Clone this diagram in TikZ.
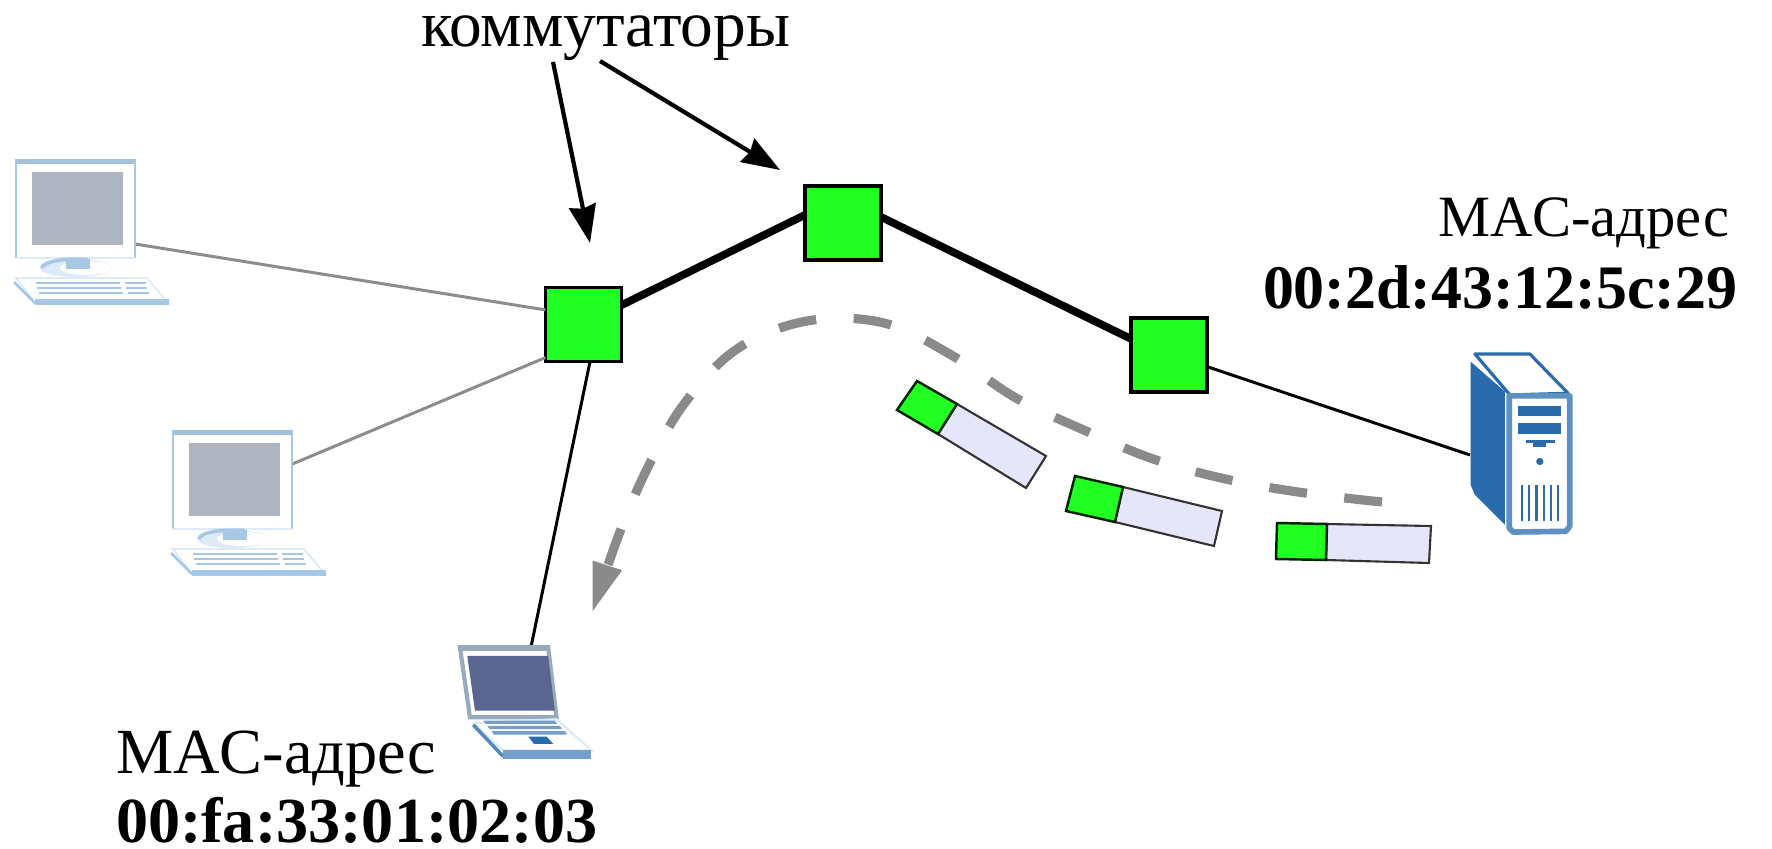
\documentclass[tikz,border=0pt]{standalone}
\usepackage{fontspec}
\setmainfont{Liberation Serif}
\usetikzlibrary{arrows.meta}
\definecolor{swgreen}{HTML}{22FF22}
\definecolor{lav}{HTML}{E6E6FA}
\definecolor{pcblue}{HTML}{A6C8E4}
\definecolor{pcpale}{HTML}{DCEBF7}
\definecolor{pcscreen}{HTML}{AEB4C0}
\definecolor{srvblue}{HTML}{2A6BAE}
\definecolor{lapscreen}{HTML}{5A6690}
\definecolor{flowgray}{HTML}{8A8A8A}
\definecolor{linkgray}{HTML}{8C8C8C}
\tikzset{
  switchbox/.style={draw=black,line width=0.9pt,fill=swgreen,minimum width=0.76cm,minimum height=0.74cm,inner sep=0pt,outer sep=0pt},
  trunk/.style={line width=2.2pt,black},
  thinlink/.style={line width=0.85pt,black},
  graylink/.style={line width=0.85pt,linkgray},
  pointer/.style={line width=1.2pt,black,-{Stealth[length=0.38cm,width=0.27cm,inset=0.03cm]}},
  flow/.style={line width=2.6pt,flowgray,dash pattern=on 0.38cm off 0.375cm,-{Triangle[length=0.5cm,width=0.28cm]}},
  label/.style={inner sep=0pt,outer sep=0pt,anchor=base west,text=black},
  pkthead/.style={draw=black!85!green,line width=0.7pt,fill=swgreen},
  pktbody/.style={draw=black!80,line width=0.6pt,fill=lav},
}
\newcommand{\pcicon}[2]{%
  \begin{scope}[shift={(#1,#2)}]
    \fill[white] (16,160) rectangle (135,258);
    \draw[pcblue,line width=0.6pt] (16,258) -- (16,160) -- (135,160) -- (135,258);
    \draw[pcpale,line width=0.5pt] (16,258) -- (135,258);
    \fill[pcblue!90!gray] (17,159) rectangle (134,164);
    \fill[pcscreen] (32,172) rectangle (123,245);
    \fill[pcpale] (76,268) ellipse (36 and 9);
    \fill[white] (86,268) ellipse (26 and 7);
    \fill[pcblue] (66,259) rectangle (90,269);
    \draw[pcblue,line width=1pt] (42,268) arc (180:290:34 and 9);
    \fill[white,draw=pcpale,line width=0.5pt] (16,278) -- (147,278) -- (168,303) -- (35,303) -- cycle;
    \fill[pcblue] (35,299) rectangle (169,305);
    \draw[pcblue,line width=0.8pt] (14,282) -- (35,303);
    \foreach \yy in {283,288,293}{
      \fill[pcblue] (36+\yy/4-70.75,\yy-0.9) rectangle (120+\yy/4-70.75,\yy+0.9);
      \fill[pcblue] (125+\yy/4-70.75,\yy-0.9) rectangle (146+\yy/4-70.75,\yy+0.9);
    }
  \end{scope}}
\begin{document}
\begin{tikzpicture}[x=0.01cm,y=-0.01cm]
\useasboundingbox (0,0) rectangle (1772,848);
\fill[white] (0,0) rectangle (1772,848);

% anchors of end devices
\coordinate (pcA) at (135,244);
\coordinate (pcB) at (290,465);
\coordinate (lap) at (531,647);
\coordinate (srv) at (1470,455);
\coordinate (ptrA) at (553,62);
\coordinate (ptrB) at (600,61);
\coordinate (ptrAend) at (590,243);
\coordinate (ptrBend) at (780,170);

% switches
\node[switchbox] (s1) at (583.5,324.5) {};
\node[switchbox] (s2) at (843,223) {};
\node[switchbox] (s3) at (1169,355) {};

% links
\draw[graylink] (pcA) -- (s1.159);
\draw[graylink] (pcB) -- (s1.221);
\draw[thinlink] (s1.-80) -- (lap);
\draw[trunk] (s1.27) -- (s2.168);
\draw[trunk] (s2.9) -- (s3.157);
\draw[thinlink] (s3.-17) -- (srv);

% pointers
\draw[pointer] (ptrA) -- (ptrAend);
\draw[pointer] (ptrB) -- (ptrBend);

% dashed flow
\draw[flow] plot[smooth,tension=0.6] coordinates {(1382,502) (1305,493) (1230,480) (1156,460) (1086,431) (1016,398) (953,356) (884,323) (807,321) (737,349) (684,404) (647,469) (618,537) (592,613)};

% frames
\draw[pktbody] (957,404) -- (1046,456) -- (1026,488) -- (938,434) -- cycle;
\draw[pkthead] (917,381) -- (957,404) -- (938,434) -- (897,410) -- cycle;
\draw[pktbody] (1123,487) -- (1222,511) -- (1214,546) -- (1115,522) -- cycle;
\draw[pkthead] (1075,476) -- (1123,487) -- (1115,522) -- (1066,511) -- cycle;
\draw[pktbody] (1327,524) -- (1431,526) -- (1429,563) -- (1326,560) -- cycle;
\draw[pkthead] (1277,523) -- (1327,524) -- (1326,560) -- (1276,559) -- cycle;

% desktops
\pcicon{0}{0}
\pcicon{157}{271}

% server
\begin{scope}[shift={(1420,340)},x=0.003333cm,y=-0.003333cm]
  \fill[srvblue] (152,65) -- (255,155) -- (255,555) -- (165,465) -- (152,435) -- cycle;
  \draw[srvblue,line width=0.9pt,fill=white,line join=round] (165,42) -- (330,42) -- (445,160) -- (270,165) -- cycle;
  \draw[srvblue!75,line width=1.6pt,fill=white,line join=round] (268,168) -- (450,168) -- (450,560) -- (438,575) -- (280,577) -- (268,565) -- cycle;
  \fill[srvblue] (295,197) rectangle (425,228);
  \fill[srvblue] (295,250) rectangle (425,282);
  \fill[srvblue] (318,300) rectangle (405,309);
  \fill[srvblue] (340,309) rectangle (380,322);
  \fill[srvblue] (360,365) circle (11);
  \foreach \xx in {307,328,350,372,394,415}{\fill[srvblue] (\xx-3.5,435) rectangle (\xx+3.5,545);}
\end{scope}

% laptop
\begin{scope}[shift={(440,630)},x=0.003333cm,y=-0.003333cm]
  \draw[pcblue!60!gray,line width=1.2pt,fill=white] (60,52) -- (325,52) -- (350,262) -- (90,262) -- cycle;
  \fill[pcblue!60!gray] (60,50) rectangle (325,62);
  \fill[lapscreen] (82,78) -- (325,78) -- (345,242) -- (105,242) -- cycle;
  \fill[white,draw=pcpale,line width=0.6pt] (100,280) -- (350,268) -- (455,362) -- (190,362) -- cycle;
  \draw[srvblue!80,line width=1pt] (100,285) -- (190,380);
  \fill[srvblue!65] (130,272) -- (345,272) -- (352,282) -- (137,282) -- cycle;
  \fill[srvblue!65] (142,288) -- (360,288) -- (367,298) -- (149,298) -- cycle;
  \fill[srvblue!65] (155,304) -- (375,304) -- (382,314) -- (162,314) -- cycle;
  \fill[srvblue] (265,320) -- (320,320) -- (340,342) -- (282,342) -- cycle;
  \fill[srvblue!65] (190,362) rectangle (455,387);
\end{scope}

% text
\node[label,font=\fontsize{18.6}{20}\selectfont] (t1) at (421,46) {коммутаторы};
\node[label,font=\fontsize{16.65}{20}\selectfont] (t2) at (1438,236) {MAC-адрес};
\node[label,font=\fontsize{17.6}{20}\selectfont\bfseries] (t3) at (1263,308) {00:2d:43:12:5c:29};
\node[label,font=\fontsize{18.3}{20}\selectfont] (t4) at (116,773) {MAC-адрес};
\node[label,font=\fontsize{18.25}{20}\selectfont\bfseries] (t5) at (116,842) {00:fa:33:01:02:03};
\end{tikzpicture}
\end{document}
